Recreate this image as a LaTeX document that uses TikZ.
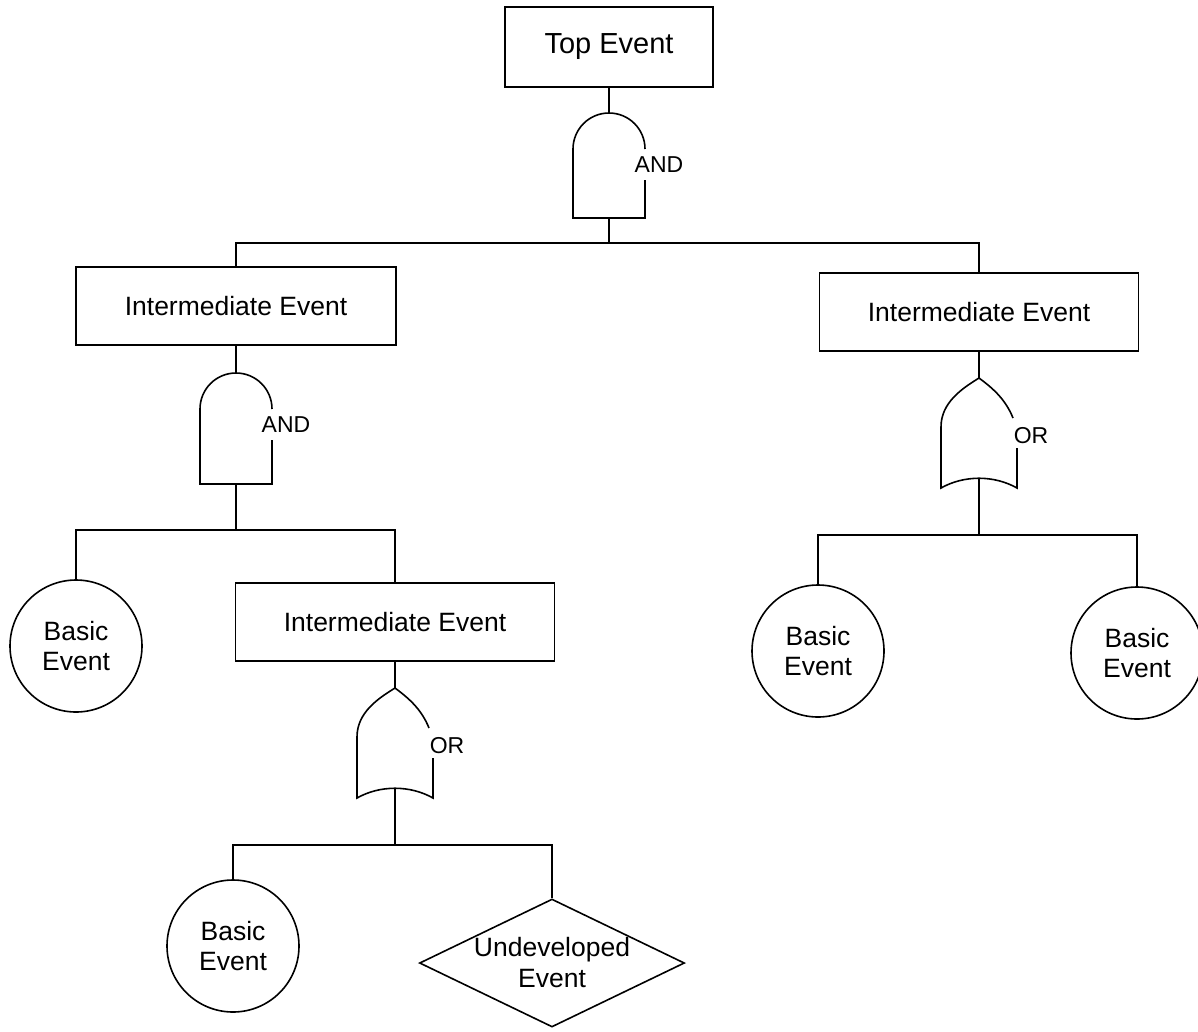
\documentclass[tikz,border=0pt]{standalone}
\usepackage{fontspec}
\setmainfont{Liberation Sans}
\usetikzlibrary{shapes.geometric}
\begin{document}
\begin{tikzpicture}[x=1pt,y=-1pt,line width=1.6pt,
  evbox/.style={draw,rectangle,inner sep=0pt,minimum height=78pt,font=\fontsize{26.5}{30}\selectfont},
  basic/.style={draw,circle,minimum size=132pt,inner sep=0pt,align=center,font=\fontsize{26.5}{30}\selectfont},
  glabel/.style={font=\fontsize{23}{26}\selectfont,fill=white,inner sep=1pt},
  andgate/.pic={
    \draw (36,67) -- (36,#1) -- (-36,#1) -- (-36,36) arc[start angle=180,end angle=0,radius=36pt];
    \coordinate (-top) at (0,0);
    \coordinate (-bot) at (0,#1);
    \coordinate (-lab) at (50,52);
  },
  orgate/.pic={
    \draw (34,40) .. controls (26,20) and (12,9) .. (0,0)
          .. controls (-16,10) and (-38,24) .. (-38,49)
          -- (-38,110) .. controls (-15,97) and (15,97) .. (38,110) -- (38,70);
    \coordinate (-top) at (0,0);
    \coordinate (-bot) at (0,101);
    \coordinate (-lab) at (52,58);
  }]
\useasboundingbox (0,0) rectangle (1198,1031);

% top event
\node[evbox,minimum width=208pt,minimum height=80pt,font=\fontsize{29}{32}\selectfont] (top) at (609,47) {Top Event};
\pic (g1) at (609,113) {andgate=105};
\node[glabel] (g1l) at (g1-lab) {AND};
\coordinate (j1) at (609,243);

% intermediate events
\node[evbox,minimum width=320pt] (L1) at (236,306) {Intermediate Event};
\node[evbox,minimum width=319pt] (R1) at (979,312) {Intermediate Event};

% left branch
\pic (g2) at (236,373) {andgate=111};
\node[glabel] (g2l) at (g2-lab) {AND};
\coordinate (j2) at (236,530);
\node[basic] (B1) at (76,646) {Basic\\Event};
\node[evbox,minimum width=319pt] (L2) at (395,622) {Intermediate Event};

\pic (g3) at (395,688) {orgate};
\node[glabel] (g3l) at (g3-lab) {OR};
\coordinate (j3) at (395,845);
\node[basic] (B2) at (233,946) {Basic\\Event};
\node[draw,diamond,minimum width=265pt,minimum height=128pt,inner sep=0pt] (U) at (552,963) {};
\node[align=center,font=\fontsize{26.5}{31}\selectfont] (Ut) at (552,963) {Undeveloped\\Event};

% right branch
\pic (g4) at (979,378) {orgate};
\node[glabel] (g4l) at (g4-lab) {OR};
\coordinate (j4) at (979,535);
\node[basic] (B3) at (818,651) {Basic\\Event};
\node[basic] (B4) at (1137,653) {Basic\\Event};

% connectors
\draw (top.south) -- (g1-top);
\draw (g1-bot) -- (j1);
\draw (L1.north) |- (j1) -| (R1.north);
\draw (L1.south) -- (g2-top);
\draw (g2-bot) -- (j2);
\draw (B1.north) |- (j2) -| (L2.north);
\draw (L2.south) -- (g3-top);
\draw (g3-bot) -- (j3);
\draw (B2.north) |- (j3) -| (U.north);
\draw (R1.south) -- (g4-top);
\draw (g4-bot) -- (j4);
\draw (B3.north) |- (j4) -| (B4.north);
\end{tikzpicture}
\end{document}
